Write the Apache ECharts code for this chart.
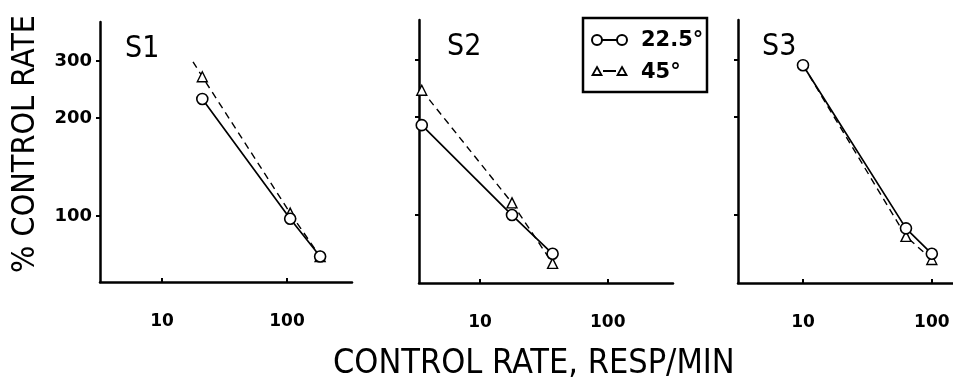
<!DOCTYPE html>
<html>
<head>
<meta charset="utf-8">
<script src="https://cdn.jsdelivr.net/npm/echarts@6/dist/echarts.min.js"></script>
<style>
  html, body { margin: 0; padding: 0; background: #fff; }
  #main { width: 953px; height: 387px; }
</style>
</head>
<body>
<div id="main"></div>
<script>
// values: [control rate resp/min, % control rate]
var s1Circle = [[21, 229], [106, 98], [184, 75]];
var s1Tri = [[21, 268], [106, 102], [184, 75]];
var s1DashStart = [17.7, 298];

var s2Circle = [[3.5, 189], [17.8, 100], [37, 76]];
var s2Tri = [[3.5, 242], [17.8, 109], [37, 71]];

var s3Circle = [[10, 289], [63, 91], [100, 76]];
var s3Tri = [[63, 86], [100, 73]];
var s3DashStart = [10, 289];

var xTicks = [10, 100];
var yTicks = [100, 200, 300];
var panelNames = ['S1', 'S2', 'S3'];
var legendNames = ['22.5°', '45°'];

var boldFont = '"DejaVu Sans", sans-serif';
var narrowFont = '"Liberation Sans Narrow", "DejaVu Sans Condensed", sans-serif';

var chart = echarts.init(document.getElementById('main'));

function xAxis(i, min, max) {
  return {
    type: 'log', logBase: 10, gridIndex: i, min: min, max: max,
    axisLine: { lineStyle: { color: '#000', width: 2.5 } },
    axisTick: { inside: true, length: 4, customValues: xTicks, lineStyle: { color: '#000', width: 2 } },
    axisLabel: { customValues: xTicks, color: '#000', fontFamily: boldFont, fontWeight: 'bold', fontSize: 17, margin: 31 },
    splitLine: { show: false }
  };
}
function yAxis(i, min, max, labels) {
  var ax = {
    type: 'log', logBase: 10, gridIndex: i, min: min, max: max,
    axisLine: { show: true, lineStyle: { color: '#000', width: 2.5 } },
    axisTick: { show: true, inside: false, length: 4, customValues: yTicks, lineStyle: { color: '#000', width: 2 } },
    axisLabel: { show: labels, customValues: yTicks, color: '#000', fontFamily: boldFont, fontWeight: 'bold', fontSize: 18, margin: 8 },
    splitLine: { show: false }
  };
  if (labels) {
    ax.name = '% CONTROL RATE';
    ax.nameLocation = 'middle';
    ax.nameRotate = 90;
    ax.nameGap = 58;
    ax.nameTextStyle = { color: '#000', fontFamily: narrowFont, fontSize: 32, padding: [0, 0, 0, 16] };
  }
  return ax;
}
function circleSeries(i, data) {
  return {
    type: 'line', xAxisIndex: i, yAxisIndex: i, data: data, z: 4,
    symbol: 'circle', symbolSize: 11,
    itemStyle: { color: '#fff', borderColor: '#000', borderWidth: 1.6 },
    lineStyle: { color: '#000', width: 1.7 }
  };
}
function triSeries(i, data, start) {
  var pts = data.slice();
  if (start) pts.unshift({ value: start, symbol: 'none' });
  return {
    type: 'line', xAxisIndex: i, yAxisIndex: i, data: pts, z: 3,
    symbol: 'triangle', symbolSize: 10,
    itemStyle: { color: '#fff', borderColor: '#000', borderWidth: 1.4 },
    lineStyle: { color: '#000', width: 1.4, type: [7, 5] }
  };
}

var option = {
  backgroundColor: '#fff',
  animation: false,
  title: [
    { text: panelNames[0], left: 120, top: 29, textStyle: { fontFamily: narrowFont, fontWeight: 'normal', fontSize: 30, color: '#000' } },
    { text: panelNames[1], left: 442, top: 27, textStyle: { fontFamily: narrowFont, fontWeight: 'normal', fontSize: 30, color: '#000' } },
    { text: panelNames[2], left: 757, top: 27, textStyle: { fontFamily: narrowFont, fontWeight: 'normal', fontSize: 30, color: '#000' } },
    { text: 'CONTROL RATE, RESP/MIN', left: 328, top: 342, textStyle: { fontFamily: narrowFont, fontWeight: 'normal', fontSize: 34, color: '#000' } }
  ],
  grid: [
    { left: 100, top: 22, width: 252, height: 260 },
    { left: 419, top: 20, width: 254, height: 263 },
    { left: 738, top: 20, width: 215, height: 263 }
  ],
  xAxis: [xAxis(0, 3.19, 331), xAxis(1, 3.33, 324), xAxis(2, 3.13, 146)],
  yAxis: [yAxis(0, 62.6, 395, true), yAxis(1, 61.8, 398, false), yAxis(2, 61.8, 398, false)],
  series: [
    circleSeries(0, s1Circle), triSeries(0, s1Tri, s1DashStart),
    circleSeries(1, s2Circle), triSeries(1, s2Tri, null),
    circleSeries(2, s3Circle), triSeries(2, s3Tri, s3DashStart)
  ],
  graphic: [
    { type: 'rect', shape: { x: 583, y: 18, width: 124, height: 74 }, style: { fill: '#fff', stroke: '#000', lineWidth: 2.5 }, z: 10 },
    { type: 'line', shape: { x1: 597, y1: 40, x2: 622, y2: 40 }, style: { stroke: '#000', lineWidth: 2 }, z: 11 },
    { type: 'circle', shape: { cx: 597, cy: 40, r: 5 }, style: { fill: '#fff', stroke: '#000', lineWidth: 2 }, z: 12 },
    { type: 'circle', shape: { cx: 622, cy: 40, r: 5 }, style: { fill: '#fff', stroke: '#000', lineWidth: 2 }, z: 12 },
    { type: 'line', shape: { x1: 603, y1: 71, x2: 616, y2: 71 }, style: { stroke: '#000', lineWidth: 2 }, z: 11 },
    { type: 'polygon', shape: { points: [[597, 67], [601.5, 75], [592.5, 75]] }, style: { fill: '#fff', stroke: '#000', lineWidth: 1.8 }, z: 12 },
    { type: 'polygon', shape: { points: [[622, 67], [626.5, 75], [617.5, 75]] }, style: { fill: '#fff', stroke: '#000', lineWidth: 1.8 }, z: 12 },
    { type: 'text', x: 641, y: 41, style: { text: legendNames[0], fontFamily: boldFont, fontWeight: 'bold', fontSize: 21, fill: '#000', verticalAlign: 'middle' }, z: 12 },
    { type: 'text', x: 641, y: 73, style: { text: legendNames[1], fontFamily: boldFont, fontWeight: 'bold', fontSize: 21, fill: '#000', verticalAlign: 'middle' }, z: 12 }
  ]
};
chart.setOption(option);
</script>
</body>
</html>
